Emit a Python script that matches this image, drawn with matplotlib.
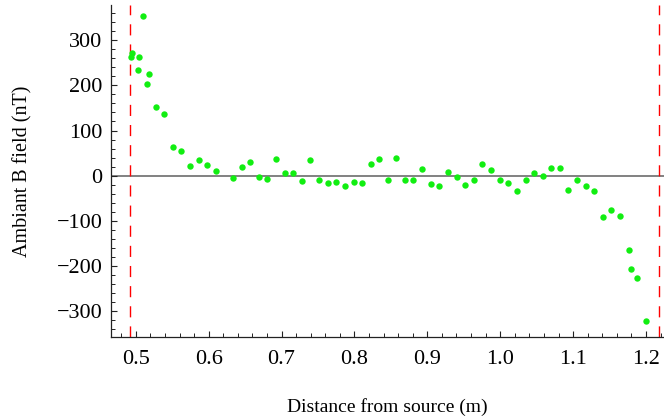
import matplotlib
matplotlib.use("Agg")
import matplotlib.pyplot as plt
from matplotlib.ticker import MultipleLocator, FixedLocator

distance = [0.4934, 0.4952, 0.5099, 0.5044, 0.5034, 0.5177, 0.5154, 0.5273, 0.5391,
            0.5506, 0.5624, 0.5739, 0.5863, 0.5981, 0.6100, 0.6333, 0.6453, 0.6571,
            0.6690, 0.6804, 0.6923, 0.7043, 0.7160, 0.7280, 0.7394, 0.7513, 0.7632,
            0.7750, 0.7870, 0.7989, 0.8103, 0.8222, 0.8340, 0.8455, 0.8573, 0.8693,
            0.8807, 0.8926, 0.9045, 0.9163, 0.9283, 0.9402, 0.9520, 0.9639, 0.9753,
            0.9872, 0.9992, 1.0110, 1.0229, 1.0348, 1.0462, 1.0582, 1.0700, 1.0815,
            1.0933, 1.1053, 1.1171, 1.1290, 1.1405, 1.1523, 1.1642, 1.1761, 1.1793,
            1.1879, 1.1998]
field = [263, 272, 354, 263, 234, 224, 203, 151, 136,
         64, 55, 22, 34, 24, 10, -5, 19, 30,
         -3, -8, 38, 7, 6, -12, 34, -10, -15,
         -13, -23, -13, -15, 26, 36, -10, 39, -9,
         -9, 15, -19, -23, 8, -3, -20, -10, 25,
         13, -10, -15, -33, -10, 7, 0, 18, 17,
         -32, -10, -22, -34, -91, -76, -88, -164, -206,
         -226, -322]
boundaries = [0.4925, 1.2185]
x_ticks = [0.5, 0.6, 0.7, 0.8, 0.9, 1.0, 1.1, 1.2]
x_tick_labels = ["0.5", "0.6", "0.7", "0.8", "0.9", "1.0", "1.1", "1.2"]
y_ticks = [-300, -200, -100, 0, 100, 200, 300]
y_tick_labels = ["\u2212300", "\u2212200", "\u2212100", "0", "100", "200", "300"]

plt.rcParams['font.family'] = ['Liberation Serif', 'DejaVu Serif']

fig = plt.figure(figsize=(6.64, 4.20), dpi=100)
ax = fig.add_axes([110.7/664, 1-337/420, 1-110.7/664, (337-5)/420])
ax.set_xlim(0.4656, 1.2247)
ax.set_ylim(-356.8, 377.7)

ax.axhline(0, color='#777777', lw=1.3, zorder=1)
for b in boundaries:
    ax.axvline(b, color='#ff0000', lw=1.0, dashes=(8, 6.5), zorder=2)
ax.plot(distance, field, 'o', color='#11ee11', ms=4.6, mec='none', zorder=3)

for s in ['top', 'right']:
    ax.spines[s].set_visible(False)
for s in ['left', 'bottom']:
    ax.spines[s].set_linewidth(0.9)
    ax.spines[s].set_color('#222222')

ax.xaxis.set_major_locator(FixedLocator(x_ticks))
ax.set_xticklabels(x_tick_labels)
ax.yaxis.set_major_locator(FixedLocator(y_ticks))
ax.set_yticklabels(y_tick_labels)
ax.xaxis.set_minor_locator(MultipleLocator(0.02))
ax.yaxis.set_minor_locator(MultipleLocator(20))
ax.tick_params(which='major', direction='in', length=4.5, width=0.8, labelsize=16, color='#222222')
ax.tick_params(which='minor', direction='in', length=3, width=0.7, color='#222222')
ax.tick_params(axis='x', which='major', pad=9.5)
ax.tick_params(axis='y', which='major', pad=6)

ax.set_xlabel('Distance from source (m)', fontsize=14, va='center')
ax.set_ylabel('Ambiant B field (nT)', fontsize=14.5, va='center')
ax.xaxis.set_label_coords(0.5, (337 - 407) / 332)
ax.yaxis.set_label_coords((23 - 110.7) / 553.3, 0.5)

fig.savefig('out.png', dpi=100)
